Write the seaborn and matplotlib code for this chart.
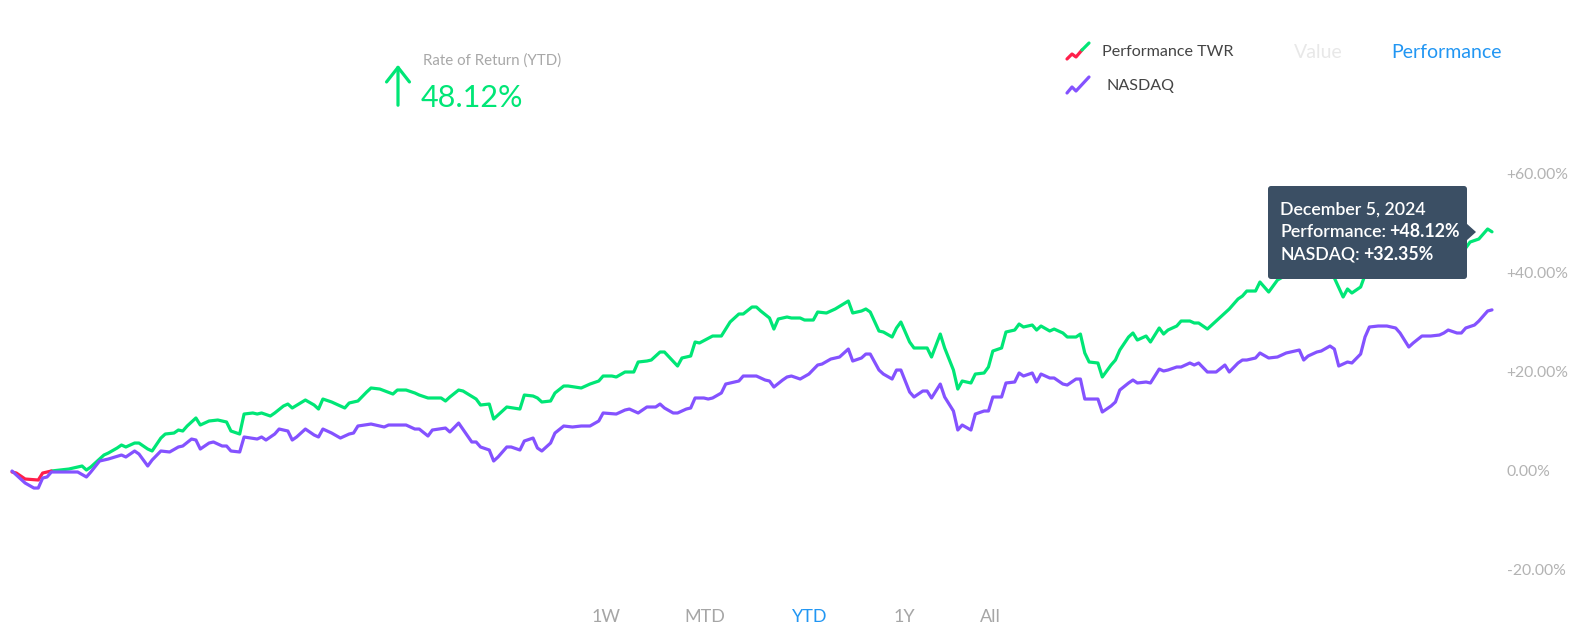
import matplotlib as mpl
mpl.use('Agg')
import matplotlib.pyplot as plt
from matplotlib.patches import FancyBboxPatch, Polygon
from matplotlib.lines import Line2D
import numpy as np
import pandas as pd
import seaborn as sns

# --- data (day of year 2024, cumulative return in %) ---
perf_days = [2, 3, 5, 8, 9, 11, 15, 16, 18, 19,
             20, 23, 24, 26, 27, 28, 30, 31, 33, 34,
             36, 37, 39, 40, 41, 42, 44, 45, 47, 49,
             51, 52, 54, 55, 57, 58, 59, 61, 62, 64,
             65, 66, 69, 71, 72, 73, 75, 78, 79, 80,
             81, 83, 84, 86, 89, 90, 92, 94, 95, 97,
             100, 101, 102, 104, 105, 108, 109, 111, 112, 113,
             115, 118, 119, 121, 122, 123, 125, 126, 128, 129,
             132, 134, 136, 137, 139, 140, 142, 144, 145, 147,
             148, 150, 151, 154, 155, 157, 158, 159, 162, 164,
             166, 168, 169, 171, 172, 173, 175, 176, 177, 179,
             180, 182, 183, 185, 186, 188, 190, 193, 194, 196,
             197, 198, 200, 201, 203, 204, 205, 207, 208, 211,
             212, 214, 215, 217, 218, 219, 221, 222, 224, 225,
             226, 228, 229, 231, 232, 233, 235, 236, 237, 239,
             240, 242, 243, 245, 246, 247, 248, 250, 251, 253,
             254, 255, 257, 258, 259, 261, 262, 264, 265, 266,
             268, 269, 271, 272, 273, 275, 276, 277, 279, 280,
             282, 283, 284, 286, 287, 289, 290, 291, 293, 294,
             296, 297, 298, 300, 301, 303, 304, 306, 307, 308,
             310, 311, 312, 314, 316, 318, 319, 321, 322, 324,
             326, 328, 329, 330, 332, 333, 334, 335, 337, 339,
             340]
perf_vals = [-0.40, -0.61, -1.82, -2.02, -0.61, -0.20, 0.20, 0.40, 0.81, 0.00,
             0.61, 3.03, 3.43, 4.44, 5.05, 4.65, 5.45, 5.45, 4.24, 3.84,
             6.46, 7.27, 7.47, 8.08, 7.88, 8.89, 10.51, 9.09, 9.90, 10.10,
             9.70, 7.88, 7.27, 11.31, 11.52, 11.31, 11.52, 10.91, 11.52, 12.93,
             13.33, 12.53, 14.14, 13.13, 12.32, 14.34, 13.74, 12.53, 13.54, 13.74,
             13.94, 15.76, 16.57, 16.36, 15.35, 16.16, 16.16, 15.56, 15.15, 14.55,
             14.55, 13.94, 14.75, 16.16, 15.96, 14.34, 13.13, 13.33, 10.30, 11.11,
             12.73, 12.32, 15.15, 14.95, 14.55, 13.74, 13.94, 15.56, 16.97, 16.97,
             16.57, 17.37, 17.98, 18.99, 18.99, 18.79, 19.80, 19.80, 21.82, 22.02,
             22.22, 23.84, 23.84, 21.01, 22.63, 23.03, 25.86, 25.66, 27.07, 27.07,
             29.90, 31.52, 31.52, 32.93, 32.93, 32.12, 30.71, 28.48, 30.51, 30.91,
             30.71, 30.71, 30.30, 30.30, 31.92, 31.72, 32.53, 34.14, 31.72, 32.12,
             32.53, 31.92, 28.08, 27.88, 26.87, 28.69, 29.90, 25.86, 24.65, 24.65,
             22.83, 27.47, 24.65, 20.20, 16.36, 17.98, 17.58, 19.39, 19.60, 20.81,
             24.04, 24.65, 27.88, 28.28, 29.49, 28.89, 29.29, 28.28, 29.09, 28.08,
             28.48, 27.68, 26.87, 26.87, 27.47, 23.64, 21.82, 21.62, 18.79, 21.21,
             22.22, 24.24, 26.87, 27.68, 26.26, 27.07, 25.86, 28.69, 27.47, 28.28,
             29.09, 30.10, 30.10, 29.70, 29.70, 28.48, 29.29, 30.10, 31.72, 32.53,
             34.55, 35.15, 36.16, 36.16, 37.98, 35.96, 37.17, 38.38, 39.39, 40.40,
             41.21, 42.02, 41.21, 42.63, 43.03, 42.02, 38.79, 34.95, 36.57, 35.76,
             36.97, 39.39, 41.41, 42.02, 42.22, 41.82, 41.01, 38.99, 39.80, 41.01,
             41.21, 41.41, 42.02, 42.63, 42.42, 43.23, 44.85, 46.06, 46.67, 48.69,
             48.12]

nasdaq_days = [2, 5, 7, 8, 9, 10, 11, 14, 17, 19,
               20, 22, 24, 27, 28, 30, 31, 33, 34, 36,
               38, 40, 41, 43, 44, 45, 47, 48, 50, 51,
               52, 54, 55, 58, 59, 60, 62, 63, 65, 66,
               67, 69, 71, 72, 73, 75, 77, 79, 80, 81,
               84, 87, 88, 92, 94, 95, 97, 98, 101, 102,
               104, 107, 108, 109, 111, 112, 113, 115, 116, 118,
               119, 121, 122, 123, 125, 126, 128, 130, 132, 134,
               136, 137, 140, 142, 143, 145, 147, 149, 150, 151,
               153, 154, 156, 157, 158, 160, 161, 162, 164, 165,
               167, 168, 169, 172, 174, 175, 176, 178, 179, 180,
               182, 184, 186, 187, 189, 191, 193, 194, 196, 197,
               198, 200, 201, 203, 204, 205, 207, 208, 210, 211,
               212, 214, 215, 217, 218, 219, 221, 222, 224, 225,
               226, 228, 229, 231, 232, 233, 235, 236, 237, 239,
               240, 242, 243, 245, 246, 247, 248, 250, 251, 253,
               254, 255, 257, 258, 259, 261, 262, 264, 265, 266,
               268, 269, 271, 272, 273, 275, 277, 279, 280, 282,
               283, 284, 286, 287, 289, 291, 293, 296, 297, 298,
               300, 301, 303, 304, 305, 307, 308, 310, 311, 312,
               314, 316, 318, 319, 321, 322, 324, 326, 328, 329,
               330, 332, 333, 334, 336, 337, 339, 340]
nasdaq_vals = [-0.20, -2.63, -3.64, -3.64, -1.62, -1.41, -0.40, -0.40, -0.40, -1.41,
               -0.40, 1.82, 2.22, 3.03, 2.63, 3.84, 3.23, 0.81, 2.02, 3.84,
               3.64, 4.65, 4.85, 6.26, 6.06, 4.24, 5.45, 5.66, 4.85, 4.85,
               3.84, 3.64, 6.67, 6.26, 6.67, 6.06, 7.27, 8.28, 7.88, 6.06,
               6.67, 8.28, 7.07, 6.67, 8.28, 7.47, 6.46, 7.27, 7.47, 8.89,
               9.29, 8.69, 9.09, 9.09, 8.28, 8.28, 6.87, 8.08, 8.48, 7.68,
               9.49, 5.66, 5.66, 4.65, 4.04, 1.82, 2.63, 4.65, 4.65, 4.04,
               5.86, 6.46, 4.44, 3.84, 5.45, 7.47, 8.89, 8.69, 8.89, 8.89,
               9.90, 11.52, 11.31, 12.12, 12.32, 11.52, 12.73, 12.73, 13.33, 12.53,
               11.52, 11.52, 12.32, 12.53, 14.55, 14.55, 14.34, 14.55, 15.56, 17.37,
               17.78, 17.98, 18.99, 18.99, 18.18, 17.98, 16.77, 18.18, 18.79, 18.99,
               18.38, 19.39, 21.21, 21.41, 22.42, 22.83, 24.44, 22.02, 22.63, 23.43,
               23.43, 20.20, 19.39, 18.38, 20.20, 20.20, 15.76, 14.75, 15.96, 15.96,
               14.55, 17.37, 14.75, 11.92, 8.08, 9.09, 8.08, 11.31, 11.92, 11.92,
               14.75, 14.75, 17.58, 17.78, 19.60, 18.99, 19.60, 17.78, 19.39, 18.59,
               18.59, 17.37, 17.17, 18.38, 18.38, 14.34, 14.34, 14.34, 11.72, 12.93,
               13.74, 16.16, 17.58, 18.18, 17.58, 17.78, 17.58, 20.40, 20.00, 20.20,
               20.81, 20.81, 21.62, 21.21, 21.62, 19.80, 19.80, 21.21, 19.80, 21.62,
               22.22, 22.22, 22.63, 23.64, 22.63, 22.83, 23.64, 24.24, 22.22, 23.03,
               23.84, 24.04, 25.05, 24.44, 21.01, 21.82, 21.62, 23.43, 26.87, 28.89,
               29.09, 29.09, 28.69, 27.68, 24.85, 25.66, 27.07, 27.07, 27.27, 27.68,
               28.28, 27.68, 27.68, 28.69, 29.29, 30.10, 32.12, 32.35]

y_ticks = [-20, 0, 20, 40, 60]
range_buttons = ['1W', 'MTD', 'YTD', '1Y', 'All']
active_range = 'YTD'
tooltip_date = 'December 5, 2024'
ytd_return = 48.12

GREEN = '#00e676'
RED = '#ff1f4b'
PURPLE = '#8452ff'
BLUE = '#2196f3'


def to_dates(days):
    return pd.Timestamp('2024-01-01') + pd.to_timedelta(np.array(days) - 1, unit='D')


perf = pd.DataFrame({'date': to_dates(perf_days), 'value': perf_vals})
nasdaq = pd.DataFrame({'date': to_dates(nasdaq_days), 'value': nasdaq_vals})

sns.set_theme(style='white')
plt.rcParams['font.family'] = ['Lato', 'DejaVu Sans']

W, H = 1569, 643
fig = plt.figure(figsize=(W / 100, H / 100), dpi=100)
ax = fig.add_axes([12 / W, 53 / H, 1480 / W, 440 / H])

# first points below zero drawn red, rest green
split = int(np.argmax(perf['value'].values >= 0))
sns.lineplot(data=perf.iloc[split - 1:], x='date', y='value', color=GREEN,
             linewidth=2.3, ax=ax, clip_on=False)
sns.lineplot(data=perf.iloc[:split], x='date', y='value', color=RED,
             linewidth=2.3, ax=ax, clip_on=False)
sns.lineplot(data=nasdaq, x='date', y='value', color=PURPLE,
             linewidth=2.3, ax=ax, clip_on=False)

ax.set_xlim(perf['date'].iloc[0], perf['date'].iloc[-1])
ax.set_ylim(-24.24, 64.65)
ax.set_xlabel('')
ax.set_ylabel('')
ax.set_xticks([])
ax.yaxis.tick_right()
ax.set_yticks(y_ticks)
ax.set_yticklabels([('+' if t > 0 else '') + f'{t:.2f}%' for t in y_ticks])
ax.tick_params(axis='y', length=0, pad=10.5, labelsize=11.3, labelcolor='#b3b3b3')
for s in ax.spines.values():
    s.set_visible(False)
ax.grid(False)
ax.patch.set_alpha(0)

tr = fig.dpi_scale_trans


def P(x, y):
    return (x / 100, (H - y) / 100)


# header: rate of return
ax.annotate('', xy=P(398, 62), xytext=P(398, 108), xycoords=tr, textcoords=tr,
            arrowprops=dict(arrowstyle='->,head_length=0.7,head_width=0.55',
                            color=GREEN, lw=2.3, mutation_scale=15))
fig.text(*P(423, 61), 'Rate of Return (YTD)', transform=tr, fontsize=10.8,
         color='#a8a8a8', va='center', ha='left')
fig.text(*P(421, 98), f'{ytd_return:.2f}%', transform=tr, fontsize=22,
         color=GREEN, va='center', ha='left')

# legend
fig.add_artist(Line2D([10.67, 10.72, 10.76, 10.82], [(H - 59) / 100, (H - 54) / 100, (H - 57) / 100, (H - 50) / 100],
                      transform=tr, color=RED, lw=2.3, solid_capstyle='round'))
fig.add_artist(Line2D([10.82, 10.89], [(H - 50) / 100, (H - 43) / 100],
                      transform=tr, color=GREEN, lw=2.3, solid_capstyle='round'))
fig.add_artist(Line2D([10.67, 10.72, 10.76, 10.89], [(H - 93) / 100, (H - 87) / 100, (H - 91) / 100, (H - 77) / 100],
                      transform=tr, color=PURPLE, lw=2.3, solid_capstyle='round'))
fig.text(*P(1102, 52), 'Performance TWR', transform=tr, fontsize=11.6,
         color='#444444', va='center', ha='left')
fig.text(*P(1107, 86), 'NASDAQ', transform=tr, fontsize=11.6,
         color='#444444', va='center', ha='left')
fig.text(*P(1294, 52), 'Value', transform=tr, fontsize=14,
         color='#e8e8e8', va='center', ha='left')
fig.text(*P(1391, 52), 'Performance', transform=tr, fontsize=14,
         color=BLUE, va='center', ha='left')

# range selector
for label, xc in zip(range_buttons, [606, 705, 810, 904, 990]):
    fig.text(*P(xc, 617), label, transform=tr, fontsize=13,
             color=BLUE if label == active_range else '#a6a6a6',
             va='center', ha='center')

# tooltip
box = FancyBboxPatch(P(1268, 279), 1.99, 0.93, boxstyle='round,pad=0,rounding_size=0.03',
                     transform=tr, facecolor='#3b4f64', edgecolor='none', zorder=10)
fig.add_artist(box)
fig.add_artist(Polygon([P(1466, 223), P(1476, 232), P(1466, 241)], closed=True,
                       transform=tr, facecolor='#3b4f64', edgecolor='none', zorder=10))
fig.text(*P(1280, 210), tooltip_date, transform=tr, fontsize=12.8, fontweight='semibold',
         color='white', va='center', ha='left', zorder=11)

renderer = fig.canvas.get_renderer()
for name, val, y in [('Performance:', perf_vals[-1], 232), ('NASDAQ:', nasdaq_vals[-1], 255)]:
    t = fig.text(*P(1280, y), name, transform=tr, fontsize=12.8, fontweight='semibold',
                 color='white', va='center', ha='left', zorder=11)
    bb = t.get_window_extent(renderer)
    fig.text(bb.x1 / 100 + 0.035, (H - y) / 100, f'+{val:.2f}%', transform=tr, fontsize=12.8,
             fontweight='bold', color='white', va='center', ha='left', zorder=11)

fig.savefig('out.png', dpi=100)
